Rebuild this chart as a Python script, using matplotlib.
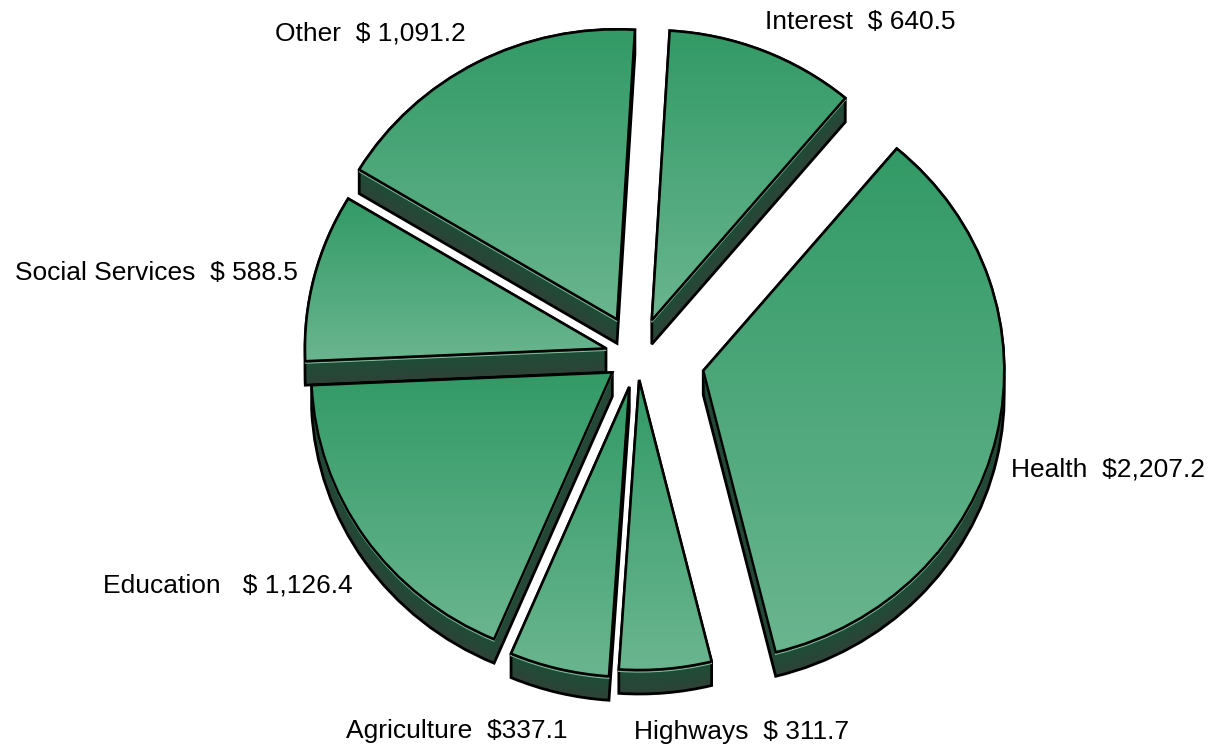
#!/usr/bin/env python

import matplotlib
matplotlib.use('Agg')
import matplotlib.pyplot as plt
import numpy as np
from matplotlib.colors import LinearSegmentedColormap, to_rgb
from matplotlib.patches import Polygon
from matplotlib.path import Path

plt.rcParams['font.family'] = ['Liberation Sans', 'DejaVu Sans']

# clockwise, starting from Health
values = [2207.2, 311.7, 337.1, 1126.4, 588.5, 1091.2, 640.5]
labels = ['Health  $2,207.2', 'Highways  $ 311.7', 'Agriculture  $337.1',
          'Education   $ 1,126.4', 'Social Services  $ 588.5',
          'Other  $ 1,091.2', 'Interest  $ 640.5']
# pie() adds explode to the centre as is, so with this radius it is in pixels
explode = [68, 25, 33, 30, 32, 43, 40]

W, H = 1214, 749
RADIUS = 301
SQUASH = 290 / 301   # the pie is a little flatter than a circle
DEPTH = 24 / SQUASH

# left edge and vertical centre of each label, in pixels from the top left
label_pos = [(1011, 469), (634, 732), (346, 731), (103, 585), (15, 273),
             (275, 33), (765, 22)]

top_cmap = LinearSegmentedColormap.from_list('top', ['#329a66', '#6ab58f'])
wall_top = np.array(to_rgb('#1b4f35'))
wall_bottom = np.array(to_rgb('#2f4238'))


def hull(points):
    # monotone chain, every slice is under 180 degrees so this is its outline
    pts = sorted(set(map(tuple, np.round(points, 3))))

    def half(seq):
        out = []
        for p in seq:
            while len(out) > 1:
                a, b = out[-2], out[-1]
                if (b[0]-a[0])*(p[1]-a[1]) - (b[1]-a[1])*(p[0]-a[0]) > 0:
                    break
                out.pop()
            out.append(p)
        return out[:-1]

    return np.array(half(pts) + half(pts[::-1]))


fig = plt.figure(figsize=(W/100, H/100), dpi=100)
ax = fig.add_axes([0, 0, 1, 1])

wedges, _ = ax.pie(values, explode=explode, startangle=50, counterclock=False,
                   radius=RADIUS, center=(637, (H-356)/SQUASH), frame=True,
                   wedgeprops={'facecolor': 'none', 'edgecolor': 'black',
                               'linewidth': 2, 'zorder': 5})

# back slices first, so the ones lower down sit on top
order = [5, 6, 0, 4, 3, 2, 1]
for rank, i in enumerate(order):
    w = wedges[i]
    outline = w.get_patch_transform().transform_path(w.get_path())
    verts = np.vstack(outline.to_polygons(closed_only=False))
    z = rank*10 + 10

    # side wall, stacked from the bottom up
    steps = np.linspace(0, DEPTH, 25)
    for k in range(24, 0, -1):
        c = wall_top + (wall_bottom-wall_top)*(k/24)
        ax.add_patch(Polygon(hull(np.vstack([verts - [0, steps[k-1]], verts - [0, steps[k]]])),
                             facecolor=c, edgecolor='none', zorder=z))
    ax.add_patch(Polygon(hull(np.vstack([verts, verts - [0, DEPTH]])),
                         facecolor='none', edgecolor='black', linewidth=2,
                         joinstyle='miter', zorder=z+1))
    ax.plot(verts[:, 0], verts[:, 1]-2.2, color='#a8d8bc', lw=0.7, alpha=0.8, zorder=z+2)

    # top face, gradient runs top to bottom of each slice
    x0, y0 = verts.min(axis=0)
    x1, y1 = verts.max(axis=0)
    im = ax.imshow(np.linspace(0, 1, 256)[:, None], cmap=top_cmap, aspect='auto',
                   extent=(x0, x1, y0, y1), origin='upper', zorder=z+3)
    im.set_clip_path(Path(verts), ax.transData)

    w.set_zorder(z+4)
    w.set_joinstyle('miter')
    w.set_linewidth(1.8)

for text, (px, py) in zip(labels, label_pos):
    ax.text(px, (H-py)/SQUASH, text, fontsize=19, color='black', ha='left', va='center',
            zorder=200)

ax.set_xlim(0, W)
ax.set_ylim(0, H/SQUASH)
ax.set_aspect('auto')
ax.axis('off')

fig.savefig('out.png', dpi=100, facecolor='white')
